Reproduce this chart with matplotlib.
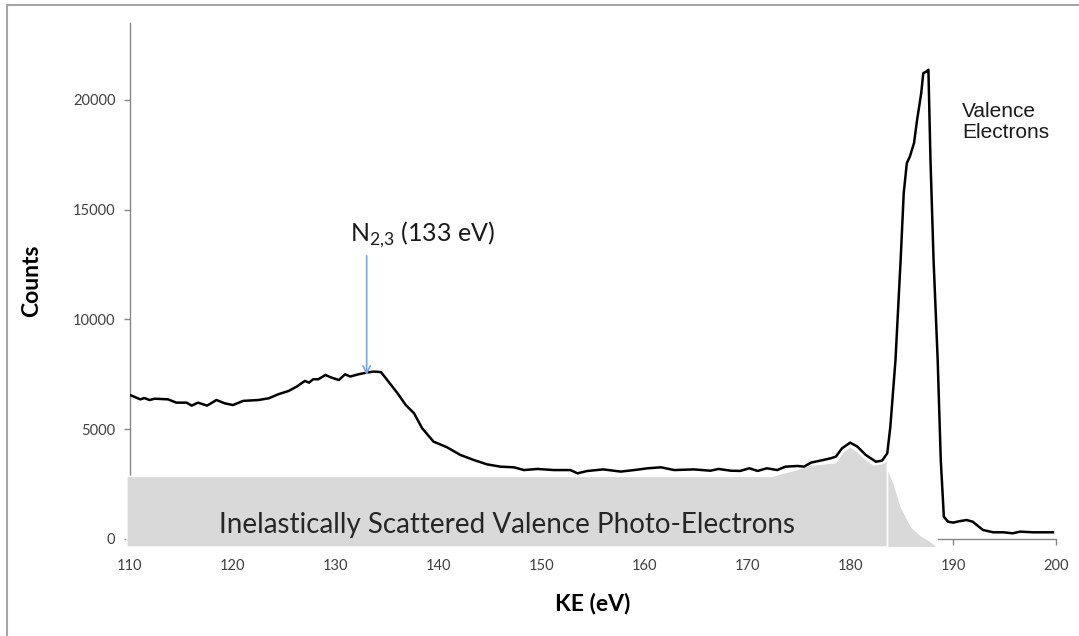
import matplotlib
matplotlib.use("Agg")
import matplotlib.pyplot as plt
from matplotlib.lines import Line2D

plt.rcParams['font.family'] = ['Lato', 'DejaVu Sans']
plt.rcParams['mathtext.fontset'] = 'custom'
plt.rcParams['mathtext.rm'] = 'Lato'

# Measured spectrum: kinetic energy (eV) and counts
ke = [110.0, 111.0, 111.4, 111.9, 112.4, 113.7, 114.5, 115.5, 116.0, 116.6,
      117.5, 118.4, 119.2, 120.0, 121.0, 122.5, 123.5, 124.4, 125.4, 126.2,
      127.0, 127.4, 127.8, 128.3, 129.0, 129.5, 130.3, 130.9, 131.4, 132.2,
      133.0, 133.7, 134.4, 135.0, 136.0, 136.8, 137.6, 138.4, 139.5, 140.8,
      142.1, 143.4, 144.7, 146.0, 147.3, 148.3, 149.6, 151.2, 152.8, 153.5,
      154.4, 156.0, 157.7, 159.0, 160.3, 161.6, 162.9, 164.8, 166.4, 167.2,
      168.4, 169.3, 170.2, 171.0, 171.9, 172.9, 173.7, 174.9, 175.5, 176.2,
      177.1, 178.1, 178.6, 179.2, 180.0, 180.7, 181.5, 182.5, 183.1, 183.6,
      183.9, 184.4, 184.9, 185.2, 185.5, 185.8, 186.2, 186.5, 186.9, 187.1,
      187.4, 187.6, 187.8, 188.1, 188.5, 188.8, 189.1, 189.5, 190.0, 190.5,
      191.3, 191.9, 192.9, 193.9, 194.9, 195.8, 196.5, 197.8, 198.8, 199.7]
counts = [6560, 6360, 6420, 6330, 6390, 6360, 6210, 6210, 6075, 6210,
          6075, 6330, 6180, 6100, 6290, 6330, 6410, 6590, 6740, 6940,
          7200, 7120, 7275, 7275, 7470, 7365, 7240, 7500, 7400, 7500,
          7580, 7625, 7600, 7240, 6640, 6100, 5730, 5040, 4435, 4180,
          3830, 3600, 3400, 3295, 3265, 3140, 3190, 3140, 3140, 2990,
          3095, 3170, 3070, 3140, 3220, 3265, 3140, 3170, 3110, 3190,
          3110, 3100, 3220, 3100, 3220, 3140, 3295, 3325, 3295, 3480,
          3570, 3675, 3750, 4130, 4390, 4205, 3830, 3520, 3570, 3905,
          5115, 8155, 12710, 15750, 17115, 17420, 18030, 19090, 20305, 21215,
          21290, 21370, 17265, 12710, 8155, 3600, 1015, 790, 745, 800,
          865, 790, 410, 305, 305, 260, 335, 305, 305, 305]

# Inelastic background band (upper edge) and the tail under the valence peak
shade_ke = [109.7, 172.4, 173.5, 174.7, 176.2, 177.5, 178.6, 179.3, 180.0,
            180.7, 181.5, 182.3, 183.1, 183.6]
shade_top = [2850, 2850, 3000, 3140, 3370, 3420, 3480, 3950, 4200,
             3980, 3620, 3370, 3430, 3570]
tail_ke = [183.6, 184.2, 184.9, 185.9, 186.8, 187.6, 188.5]
tail_top = [3200, 2540, 1470, 560, 180, -45, -365]
shade_floor = -365

yticks = [0, 5000, 10000, 15000, 20000]
xticks = list(range(110, 201, 10))

fig = plt.figure(figsize=(10.79, 6.36), dpi=100)
ax = fig.add_axes([130 / 1079, 1 - 539 / 636, 926 / 1079, 516 / 636])

ax.set_xlim(110, 200)
ax.set_ylim(0, 23500)

# gray shaded regions
poly_x = shade_ke + [shade_ke[-1], shade_ke[0]]
poly_y = shade_top + [shade_floor, shade_floor]
ax.fill(poly_x, poly_y, facecolor='#D9D9D9', edgecolor='white', lw=1.0,
        zorder=3, clip_on=False)
ax.fill_between(tail_ke, shade_floor, tail_top, facecolor='#D9D9D9',
                edgecolor='white', lw=0.8, zorder=3, clip_on=False)

ax.plot(ke, counts, color='black', lw=1.8, zorder=5, solid_joinstyle='round')

ax.text(146.6, 270, 'Inelastically Scattered Valence Photo-Electrons',
        ha='center', va='baseline', fontsize=20, color='#262626', zorder=6)

ax.annotate('', xy=(133, 7470), xytext=(133, 12900),
            arrowprops=dict(arrowstyle='->', color='#7BA3D8', lw=1.2,
                            mutation_scale=13, shrinkA=0, shrinkB=0),
            zorder=6)
ax.text(131.4, 13530, r'N$_{\mathregular{2{,}3}}$ (133 eV)', ha='left',
        va='baseline', fontsize=18, color='#1a1a1a')

ax.text(190.9, 19900, 'Valence\nElectrons', ha='left', va='top',
        fontsize=15, family='Liberation Sans', color='#1a1a1a',
        linespacing=1.15)

for s in ['top', 'right']:
    ax.spines[s].set_visible(False)
for s in ['left', 'bottom']:
    ax.spines[s].set_color('#868686')
    ax.spines[s].set_linewidth(1.0)
ax.spines['bottom'].set_bounds(188.5, 200)

ax.set_xticks(xticks)
ax.set_yticks(yticks)
ax.set_yticklabels([str(v) for v in yticks])
ax.tick_params(axis='both', colors='#868686', labelcolor='#404040',
               labelsize=10.5, length=4.5, width=1.0)
ax.tick_params(axis='x', pad=10)
ax.tick_params(axis='y', pad=6)

ax.set_xlabel('KE (eV)', fontsize=16.5, fontweight='bold', labelpad=14)
ax.set_ylabel('Counts', fontsize=16.5, fontweight='bold', labelpad=22)

# chart frame
fig.add_artist(Line2D([7 / 1079, 7 / 1079], [0, 1 - 5 / 636],
                      transform=fig.transFigure, color='#A6A6A6', lw=1.5))
fig.add_artist(Line2D([7 / 1079, 1], [1 - 5 / 636, 1 - 5 / 636],
                      transform=fig.transFigure, color='#A6A6A6', lw=1.5))

fig.savefig('out.png', dpi=100)
